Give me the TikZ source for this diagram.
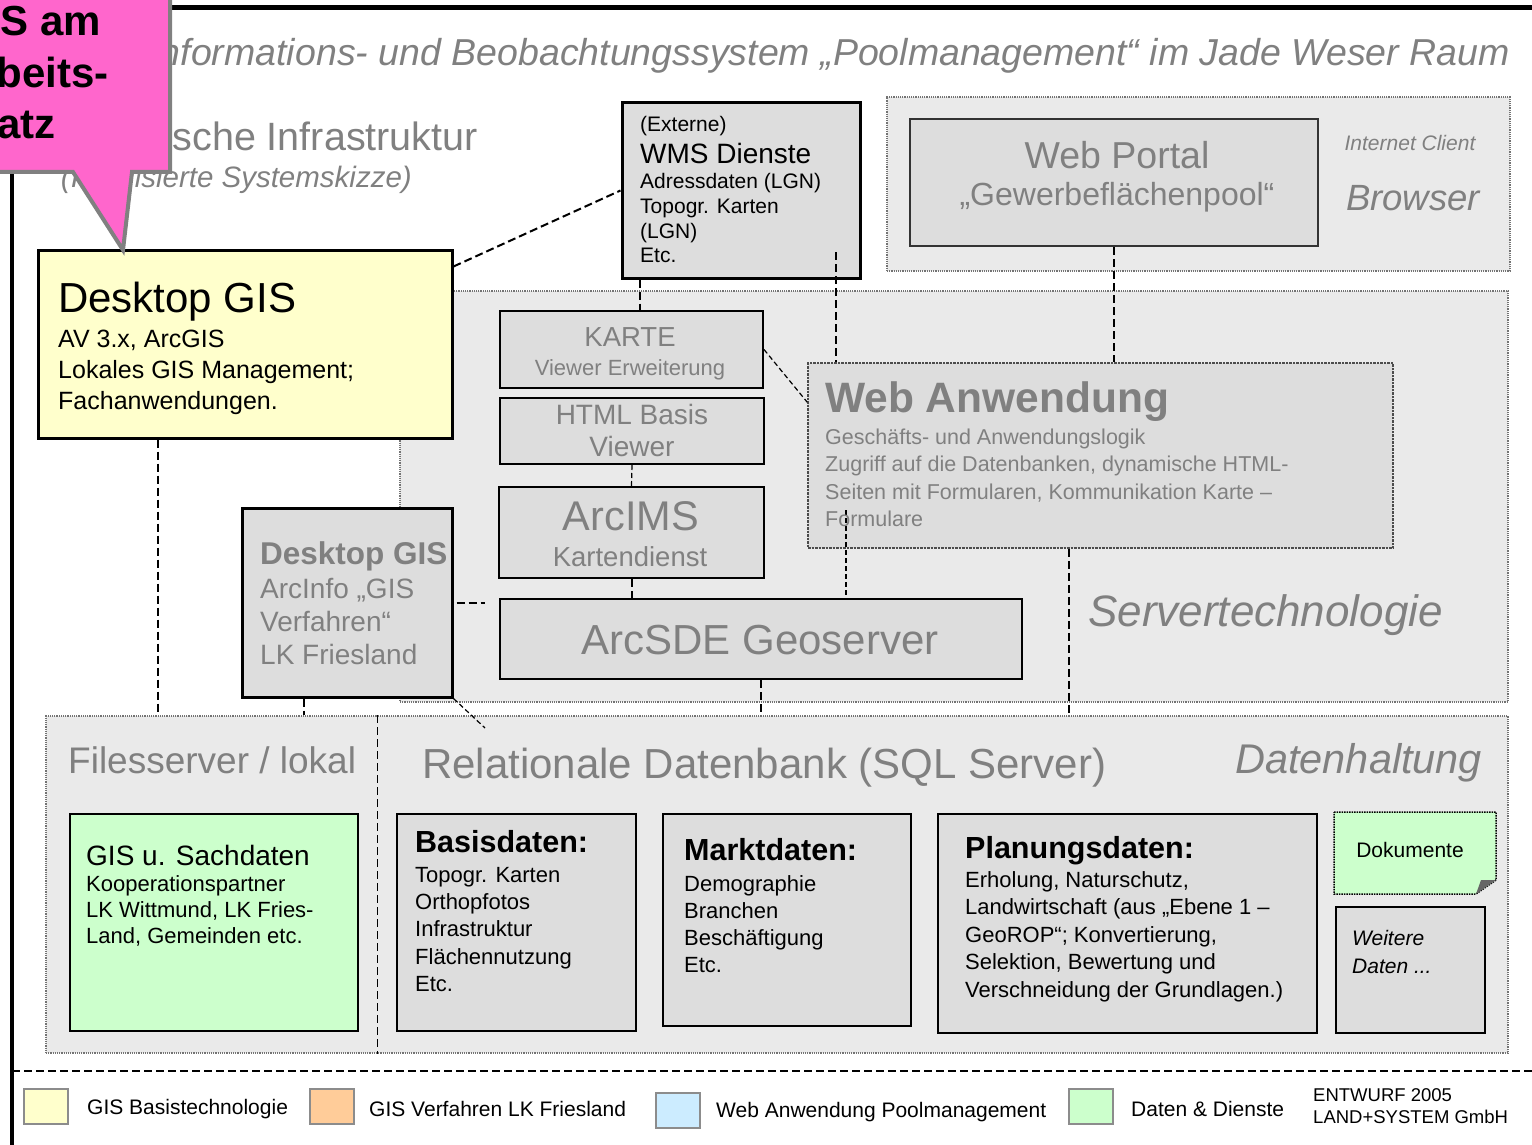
\documentclass[tikz,border=0pt]{standalone}
\usepackage{fontspec}
\setmainfont{Liberation Sans}
\usetikzlibrary{positioning}

\definecolor{regiongray}{HTML}{EAEAEA}
\definecolor{boxgray}{HTML}{DDDDDD}
\definecolor{txtgray}{HTML}{808080}
\definecolor{gisyellow}{HTML}{FFFFCC}
\definecolor{datagreen}{HTML}{CCFFCC}
\definecolor{lkorange}{HTML}{FFCC99}
\definecolor{webblue}{HTML}{CCECFF}
\definecolor{calloutpink}{HTML}{FF66CC}

\newcommand{\fsz}[1]{\fontsize{#1pt}{#1pt}\selectfont}
% box from (x1,y1) to (x2,y2) in pixel units
\newcommand{\panel}[6]{\node[#1, inner sep=0, minimum width={(#5-#3)*1pt}, minimum height={(#6-#4)*1pt}] (#2) at ({(#3+#5)/2},{(#4+#6)/2}) {};}

\tikzset{
  region/.style={draw=black!55, densely dotted, line width=1.2pt, fill=regiongray},
  box/.style={draw=black, line width=2.5pt, fill=boxgray},
  conn/.style={draw=black, line width=2pt, dash pattern=on 8pt off 4pt},
  thinconn/.style={draw=black, line width=1.2pt, dash pattern=on 5pt off 3pt},
  gtxt/.style={text=txtgray, inner sep=0, anchor=base west},
  btxt/.style={text=black, inner sep=0, anchor=base west},
  legbox/.style={draw=black!45, line width=2pt, minimum width=44pt, minimum height=35pt, inner sep=0}
}

\begin{document}
\begin{tikzpicture}[x=1pt, y=-1pt]
    \useasboundingbox (0,0) rectangle (1532,1145);
    % frame
    \draw[line width=4pt] (12,0) -- (12,1145);
    \draw[line width=5pt] (170,8) -- (1532,8);
    \node[gtxt, anchor=base east, font=\fsz{37.5}\itshape] (title) at (1510,66) {Informations- und Beobachtungssystem „Poolmanagement“ im Jade Weser Raum};
    \node[gtxt, anchor=base east, font=\fsz{39.5}] (infra) at (478,151) {Technische Infrastruktur};
    \node[gtxt, anchor=base east, font=\fsz{29.5}\itshape] (skizze) at (412,188) {(Idealisierte Systemskizze)};

    % regions
    \panel{region}{server}{400}{291}{1508}{702}
    \panel{region}{portalbg}{887}{97}{1510}{271}
    \panel{region}{data}{46}{716}{1508}{1053}

    % boxes
    \panel{box, fill=gisyellow, line width=3pt}{dgis}{38}{250}{452}{438}
    \panel{box, line width=3pt}{wms}{622}{103}{860}{278}
    \panel{box, draw=black!80, line width=2pt}{portal}{910}{119}{1318}{246}
    \panel{box, line width=2pt}{karte}{500}{311}{763}{388}
    \panel{box, line width=2pt}{html}{500}{398}{764}{464}
    \panel{box, line width=2pt}{ims}{499}{487}{764}{578}
    \panel{box}{sde}{500}{599}{1022}{679}
    \panel{box, line width=3pt}{dgisb}{242}{508}{452}{697}
    \panel{box, draw=black!70, densely dotted, line width=1.5pt}{webapp}{808}{363}{1393}{548}
    \panel{box, fill=datagreen, line width=2pt}{sach}{70}{814}{358}{1031}
    \panel{box}{basis}{397}{814}{636}{1031}
    \panel{box}{markt}{663}{814}{911}{1026}
    \panel{box}{plan}{938}{814}{1317}{1033}
    \panel{box, line width=2pt}{weitere}{1336}{907}{1485}{1033}
    \draw[fill=datagreen, line width=1.5pt, densely dotted] (1334,812) -- (1496,812) -- (1496,880) -- (1476,894) -- (1334,894) -- cycle;
    \fill[black!60] (1476,894) -- (1481,880) -- (1496,880) -- cycle;

    % connectors
    \draw[conn] ([yshift=-18pt]dgis.north east) -- (wms.west);
    \draw[conn] ([xshift=19pt]wms.south west) -- ([xshift=19pt]wms.south west |- karte.north);
    \coordinate (wmsdrop) at (836,252);
    \draw[conn] (wmsdrop) -- (wmsdrop |- webapp.north);
    \draw[conn] (portal.south) -- (portal.south |- webapp.north);
    \draw[thinconn] (karte.east) -- ([yshift=-40pt]webapp.north west);
    \draw[thinconn] (html.south) -- (ims.north);
    \draw[conn] (ims.south) -- (ims.south |- sde.north);
    \coordinate (formdrop) at (846,510);
    \draw[thinconn] (formdrop) -- (formdrop |- sde.north);
    \draw[conn] ([xshift=262pt]webapp.south west) -- ([xshift=262pt]webapp.south west |- data.north);
    \draw[conn] (sde.south) -- (sde.south |- data.north);
    \draw[conn, shorten >=14pt, shorten <=3pt] (dgisb.east) -- (dgisb.east -| sde.west);
    \draw[conn] ([xshift=63pt]dgisb.south west) -- ([xshift=63pt]dgisb.south west |- data.north);
    \draw[conn] ([xshift=121pt]dgis.south west) -- ([xshift=121pt]dgis.south west |- data.north);
    \coordinate (reltip) at (485,728);
    \draw[thinconn] (dgisb.south east) -- (reltip);
    \draw[conn, line width=1.4pt] ([xshift=332pt]data.north west) -- ([xshift=332pt]data.north west |- data.south);

    % texts: top row
    \node[btxt, font=\fsz{42}] (dgis0) at (58,312) {Desktop GIS};
    \foreach \t [count=\i from 0] in {{AV 3.x, ArcGIS}, Lokales GIS Management;, Fachanwendungen.}
        \node[btxt, font=\fsz{25}] (dgis\i) at (58,{347+31*\i}) {\t};
    \node[btxt, font=\fsz{21}] (wmsa) at (640,132) {(Externe)};
    \node[btxt, font=\fsz{28}] (wmsb) at (640,164) {WMS Dienste};
    \foreach \t [count=\i from 0] in {Adressdaten (LGN), Topogr. Karten, (LGN), Etc.}
        \node[btxt, font=\fsz{21}] (wms\i) at (640,{189+24.5*\i}) {\t};
    \node[gtxt, anchor=base, font=\fsz{37.5}] (wp1) at (1117,168) {Web Portal};
    \node[gtxt, anchor=base, font=\fsz{32}] (wp2) at (1117,205) {„Gewerbeflächenpool“};
    \node[gtxt, anchor=base, font=\fsz{21}\itshape] (client) at (1410,150) {Internet Client};
    \node[gtxt, anchor=base, font=\fsz{36.5}\itshape] (browser) at (1413,210) {Browser};

    % texts: server
    \node[gtxt, anchor=base, font=\fsz{27.5}] (karte1) at (630,346) {KARTE};
    \node[gtxt, anchor=base, font=\fsz{22}] (karte2) at (630,375) {Viewer Erweiterung};
    \node[gtxt, anchor=base, font=\fsz{28}] (html1) at (632,424) {HTML Basis};
    \node[gtxt, anchor=base, font=\fsz{28}] (html2) at (632,456) {Viewer};
    \node[gtxt, anchor=base, font=\fsz{41.5}] (ims1) at (631,530) {ArcIMS};
    \node[gtxt, anchor=base, font=\fsz{27.5}] (ims2) at (630,566) {Kartendienst};
    \node[gtxt, anchor=base, font=\fsz{42}] (sde1) at (760,654) {ArcSDE Geoserver};
    \node[gtxt, font=\fsz{31.5}\bfseries] (dgisb0) at (260,564) {Desktop GIS};
    \foreach \t [count=\i from 0] in {ArcInfo „GIS, Verfahren“, LK Friesland}
        \node[gtxt, font=\fsz{28}] (dgisb\i) at (260,{598+33*\i}) {\t};
    \node[gtxt, font=\fsz{42.5}\bfseries] (web0) at (825,412) {Web Anwendung};
    \foreach \t [count=\i from 0] in {Geschäfts- und Anwendungslogik, {Zugriff auf die Datenbanken, dynamische HTML-}, {Seiten mit Formularen, Kommunikation Karte –}, Formulare}
        \node[gtxt, font=\fsz{21.5}] (web\i) at (825,{444+27.5*\i}) {\t};
    \node[gtxt, font=\fsz{44}\itshape] (servtech) at (1088,626) {Servertechnologie};

    % texts: data
    \node[gtxt, font=\fsz{37}] (files) at (68,773) {Filesserver / lokal};
    \node[gtxt, font=\fsz{42}] (rdb) at (422,778) {Relationale Datenbank (SQL Server)};
    \node[gtxt, font=\fsz{41.5}\itshape] (dathalt) at (1235,773) {Datenhaltung};
    \node[btxt, font=\fsz{28}] (sach0) at (86,865) {GIS u. Sachdaten};
    \foreach \t [count=\i from 0] in {Kooperationspartner, {LK Wittmund, LK Fries-}, {Land, Gemeinden etc.}}
        \node[btxt, font=\fsz{22}] (sach\i) at (86,{891+26*\i}) {\t};
    \node[btxt, font=\fsz{30.5}\bfseries] (basis0) at (415,852) {Basisdaten:};
    \foreach \t [count=\i from 0] in {Topogr. Karten, Orthopfotos, Infrastruktur, Flächennutzung, Etc.}
        \node[btxt, font=\fsz{22}] (basis\i) at (415,{882+27.4*\i}) {\t};
    \node[btxt, font=\fsz{30.5}\bfseries] (markt0) at (684,860) {Marktdaten:};
    \foreach \t [count=\i from 0] in {Demographie, Branchen, Beschäftigung, Etc.}
        \node[btxt, font=\fsz{22}] (markt\i) at (684,{891+27.3*\i}) {\t};
    \node[btxt, font=\fsz{30.5}\bfseries] (plan0) at (965,858) {Planungsdaten:};
    \foreach \t [count=\i from 0] in {{Erholung, Naturschutz,}, Landwirtschaft (aus „Ebene 1 –, {GeoROP“; Konvertierung,}, {Selektion, Bewertung und}, Verschneidung der Grundlagen.)}
        \node[btxt, font=\fsz{22}] (plan\i) at (965,{887+27.5*\i}) {\t};
    \node[btxt, anchor=base, font=\fsz{21}] (doc) at (1410,857) {Dokumente};
    \node[btxt, font=\fsz{21}\itshape] (weit1) at (1352,945) {Weitere};
    \node[btxt, font=\fsz{21}\itshape] (weit2) at (1352,973) {Daten ...};

    % legend
    \draw[line width=2pt, dash pattern=on 8pt off 4pt] (12,1071) -- (1532,1071);
    \node[legbox, fill=gisyellow] (leg1) at (46,1106) {};
    \node[legbox, fill=lkorange] (leg2) at (332,1106) {};
    \node[legbox, fill=webblue] (leg3) at (678,1110) {};
    \node[legbox, fill=datagreen] (leg4) at (1091,1106) {};
    \node[right=18pt of leg1, yshift=-3pt, inner sep=0, font=\fsz{21}] (legt1) {GIS Basistechnologie};
    \node[right=14pt of leg2, yshift=-3pt, inner sep=0, font=\fsz{21}] (legt2) {GIS Verfahren LK Friesland};
    \node[right=15pt of leg3, yshift=-2pt, inner sep=0, font=\fsz{21}] (legt3) {Web Anwendung Poolmanagement};
    \node[right=17pt of leg4, yshift=-3pt, inner sep=0, font=\fsz{21}] (legt4) {Daten \& Dienste};
    \node[btxt, font=\fsz{18.5}] (draft1) at (1313,1101) {ENTWURF 2005};
    \node[btxt, font=\fsz{18.5}] (draft2) at (1313,1123) {LAND+SYSTEM GmbH};

    % callout
    \draw[fill=calloutpink, draw=black!50, line width=4pt] (-10,-10) -- (170,-10) -- (170,172) -- (132,172) -- (123,250) -- (73,172) -- (-10,172) -- cycle;
    \foreach \t/\x/\y [count=\i] in {GIS am/-44/36, Arbeits-/-50/88, platz/-40/139}
        \node[btxt, font=\fsz{42}\bfseries] (call\i) at (\x,\y) {\t};
\end{tikzpicture}
\end{document}
